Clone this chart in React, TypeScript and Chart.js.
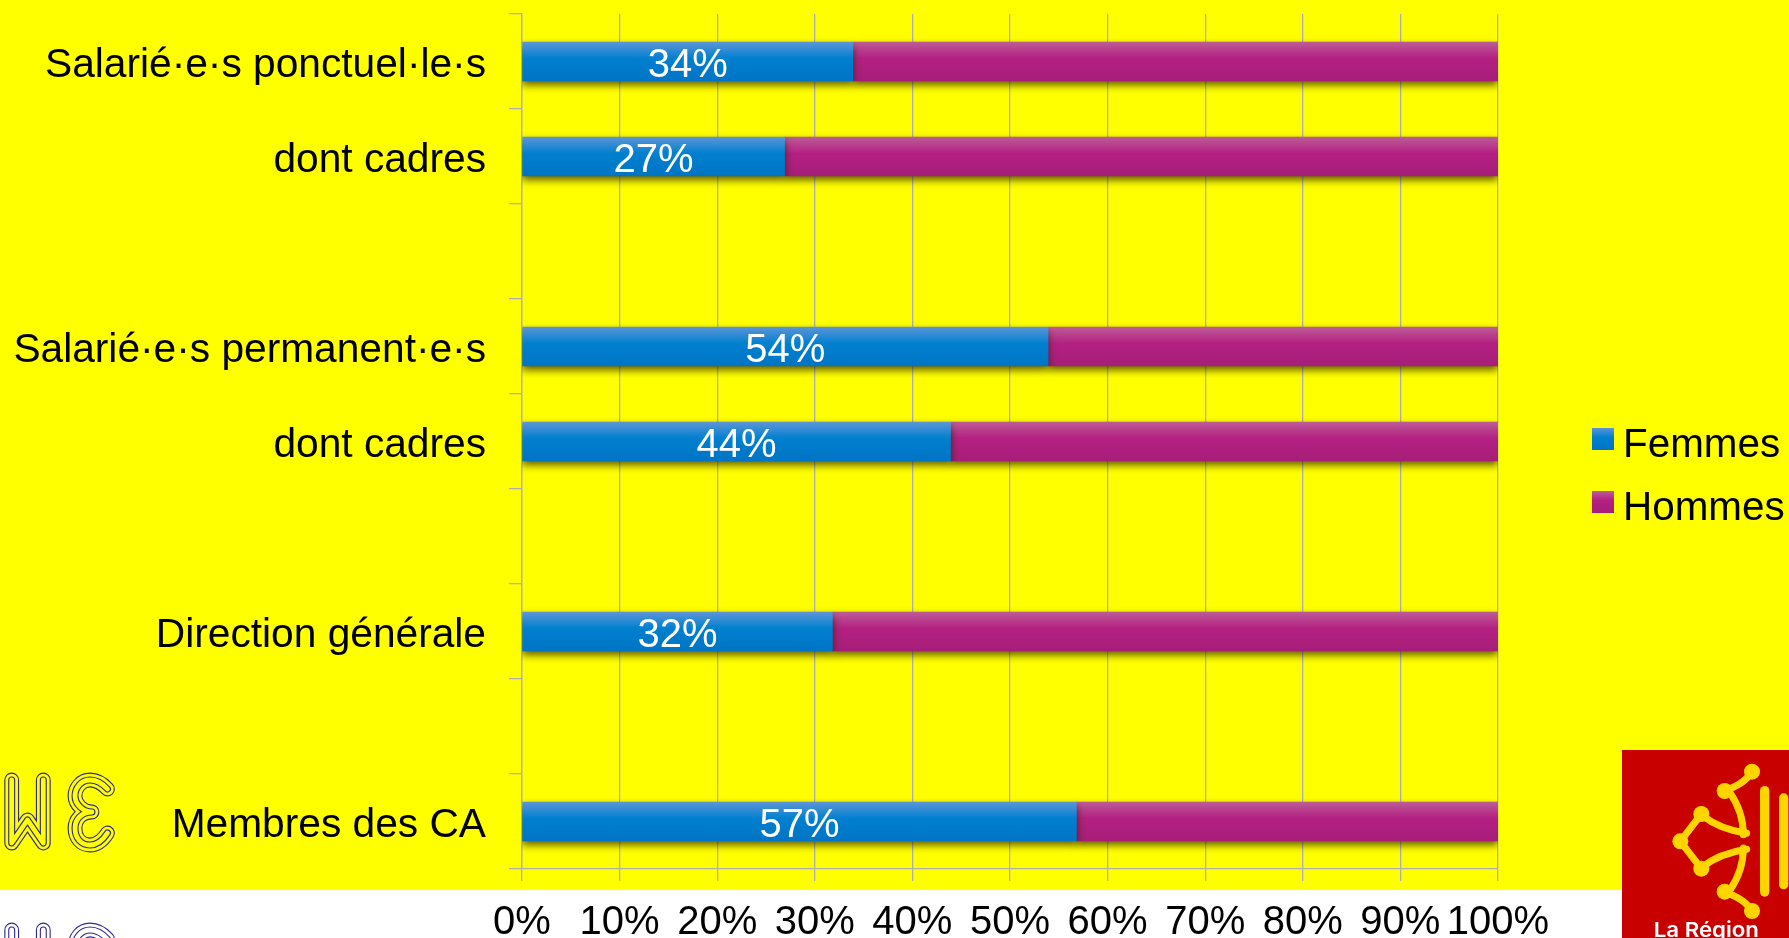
import React, { useEffect, useRef } from "react";
import { Chart, registerables } from "chart.js";

Chart.register(...registerables);

const categories = [
  "Salarié·e·s ponctuel·le·s",
  "dont cadres",
  "",
  "Salarié·e·s permanent·e·s",
  "dont cadres",
  "",
  "Direction générale",
  "",
  "Membres des CA",
];
const femmes = [33.9, 26.9, null, 53.9, 43.9, null, 31.8, null, 56.8];
const hommes = [66.1, 73.1, null, 46.1, 56.1, null, 68.2, null, 43.2];

const FONT = '"Liberation Sans", Arial, sans-serif';
const BAR = 39;
const blueStops = ["#5C95D6", "#0080D0", "#0074C4"];
const pinkStops = ["#BC5C96", "#B42082", "#A61E78"];

function fillFor(ctx: CanvasRenderingContext2D, top: number, h: number, c: string[]) {
  const g = ctx.createLinearGradient(0, top, 0, top + h);
  g.addColorStop(0, c[0]);
  g.addColorStop(0.42, c[1]);
  g.addColorStop(1, c[2]);
  return g;
}

function barFill(stops: string[]) {
  return (c: any) => {
    const y = c.chart.scales?.y;
    if (c.dataIndex === undefined || !y) return stops[1];
    const mid = y.getPixelForTick(c.dataIndex);
    return fillFor(c.chart.ctx, mid - BAR / 2, BAR, stops);
  };
}

const decor = {
  id: "decor",
  beforeDatasetsDraw(chart: any) {
    const ctx = chart.ctx;
    ctx.save();
    ctx.shadowColor = "rgba(40,30,0,0.75)";
    ctx.shadowBlur = 8;
    ctx.shadowOffsetY = 4;
  },
  afterDatasetsDraw(chart: any) {
    const ctx = chart.ctx;
    ctx.restore();
    ctx.save();
    ctx.font = `40px ${FONT}`;
    ctx.fillStyle = "#FFFFFF";
    ctx.textAlign = "center";
    ctx.textBaseline = "middle";
    const meta = chart.getDatasetMeta(0);
    meta.data.forEach((el: any, i: number) => {
      const v = femmes[i];
      if (v == null) return;
      ctx.fillText(`${Math.round(v)}%`, (el.x + el.base) / 2, el.y + 4);
    });
    ctx.restore();
  },
  afterDraw(chart: any) {
    const ctx = chart.ctx;
    ctx.save();
    ctx.font = `40.4px ${FONT}`;
    ctx.textBaseline = "alphabetic";
    ctx.textAlign = "left";
    const sets = [
      { top: 428, stops: blueStops },
      { top: 491, stops: pinkStops },
    ];
    chart.data.datasets.forEach((d: any, i: number) => {
      ctx.fillStyle = fillFor(ctx, sets[i].top, 22, sets[i].stops);
      ctx.fillRect(1592, sets[i].top, 22, 22);
      ctx.fillStyle = "#000000";
      ctx.fillText(d.label, 1623, sets[i].top + 29);
    });
    ctx.restore();
  },
};

const W_PATH = "M11.7 780 V843 L27.5 820 L43.3 843 V780";
const E_PATH =
  "M107.5 789 C102 783 96 780 90 780 C81 780 75 788 75 796 C75 804 83 812 92 812 C81 812 75 820 75 828 C75 838 81 845 90 845 C97 845 103 840 107.5 833";

function Tube({ d, bg }: { d: string; bg: string }) {
  const common = { d, fill: "none", strokeLinecap: "round" as const, strokeLinejoin: "round" as const };
  return (
    <g>
      <path {...common} stroke="#2E2A8C" strokeWidth={14.8} />
      <path {...common} stroke={bg} strokeWidth={12.6} />
      <path {...common} stroke="#2E2A8C" strokeWidth={7} />
      <path {...common} stroke={bg} strokeWidth={4.8} />
    </g>
  );
}

function WeMark({ dy, bg }: { dy: number; bg: string }) {
  return (
    <g transform={`translate(0 ${dy})`}>
      <Tube d={W_PATH} bg={bg} />
      <Tube d={E_PATH} bg={bg} />
    </g>
  );
}

function Region() {
  const gold = "#FFD500";
  const arm = (
    <g fill="none" stroke={gold} strokeLinecap="round">
      <path d="M374 280 C320 272 280 258 240 226" strokeWidth={21} />
      <path d="M364 284 C364 232 348 192 322 155" strokeWidth={21} />
      <path d="M308 153 C340 140 372 125 390 95" strokeWidth={21} />
      <path d="M238 222 L175 304" strokeWidth={21} />
      <circle cx={308} cy={153} r={24} fill={gold} stroke="none" />
      <circle cx={390} cy={95} r={24} fill={gold} stroke="none" />
      <circle cx={238} cy={222} r={24} fill={gold} stroke="none" />
    </g>
  );
  return (
    <svg
      viewBox="0 0 501 594"
      width={167}
      height={198}
      style={{ position: "absolute", left: 1622, top: 740 }}
    >
      <rect x={0} y={30} width={501} height={564} fill="#C80000" />
      {arm}
      <g transform="matrix(1 0 0 -1 0 608)">{arm}</g>
      <circle cx={175} cy={304} r={24} fill={gold} />
      <line x1={428} y1={152} x2={428} y2={456} stroke={gold} strokeWidth={28} strokeLinecap="round" />
      <line x1={485} y1={174} x2={485} y2={434} stroke={gold} strokeWidth={28} strokeLinecap="round" />
      <text
        x={95}
        y={590}
        fill="#FFFFFF"
        fontFamily="Inter, 'Open Sans', sans-serif"
        fontWeight={600}
        fontSize={62}
        textLength={316}
        lengthAdjust="spacingAndGlyphs"
      >
        La Région
      </text>
    </svg>
  );
}

export default function App() {
  const ref = useRef<HTMLCanvasElement | null>(null);

  useEffect(() => {
    document.body.style.margin = "0";
    document.documentElement.style.overflow = "hidden";
    const grey = "#AEAEAE";
    const chart = new Chart(ref.current as HTMLCanvasElement, {
      type: "bar",
      data: {
        labels: categories,
        datasets: [
          { label: "Femmes", data: femmes, backgroundColor: barFill(blueStops), barThickness: BAR },
          { label: "Hommes", data: hommes, backgroundColor: barFill(pinkStops), barThickness: BAR },
        ],
      } as any,
      plugins: [decor],
      options: {
        indexAxis: "y",
        animation: false,
        responsive: false,
        devicePixelRatio: 1,
        layout: { padding: { top: 14, right: 291, left: 0, bottom: 0 } },
        plugins: { legend: { display: false }, tooltip: { enabled: false } },
        scales: {
          x: {
            stacked: true,
            min: 0,
            max: 100,
            afterFit: (s: any) => {
              s.height = 69;
              s.paddingLeft = 0;
              s.paddingRight = 0;
            },
            grid: { color: grey, lineWidth: 1.3, tickLength: 12, tickColor: grey },
            border: { color: grey, width: 1.3 },
            ticks: {
              stepSize: 10,
              padding: 18,
              color: "#000000",
              maxRotation: 0,
              autoSkip: false,
              font: { family: FONT, size: 40 },
              callback: (v: any) => `${v}%`,
            },
          },
          y: {
            stacked: true,
            afterFit: (s: any) => {
              s.width = 522;
              s.paddingTop = 0;
              s.paddingBottom = 0;
            },
            grid: { drawOnChartArea: false, offset: true, color: grey, lineWidth: 1.3, tickLength: 13 },
            border: { color: grey, width: 1.3 },
            ticks: {
              padding: 23,
              labelOffset: 4.5,
              color: "#000000",
              autoSkip: false,
              font: { family: FONT, size: 40.7 },
            },
          },
        },
      } as any,
    });
    return () => chart.destroy();
  }, []);

  return (
    <div style={{ position: "relative", width: 1789, height: 938, overflow: "hidden", background: "#FFFFFF" }}>
      <div style={{ position: "absolute", left: 0, top: 0, width: 1789, height: 890, background: "#FFFF00" }} />
      <svg width={130} height={938} style={{ position: "absolute", left: 0, top: 0 }}>
        <WeMark dy={0} bg="#FFFF00" />
        <WeMark dy={150} bg="#FFFFFF" />
      </svg>
      <canvas ref={ref} width={1789} height={938} style={{ position: "absolute", left: 0, top: 0 }} />
      <Region />
    </div>
  );
}
